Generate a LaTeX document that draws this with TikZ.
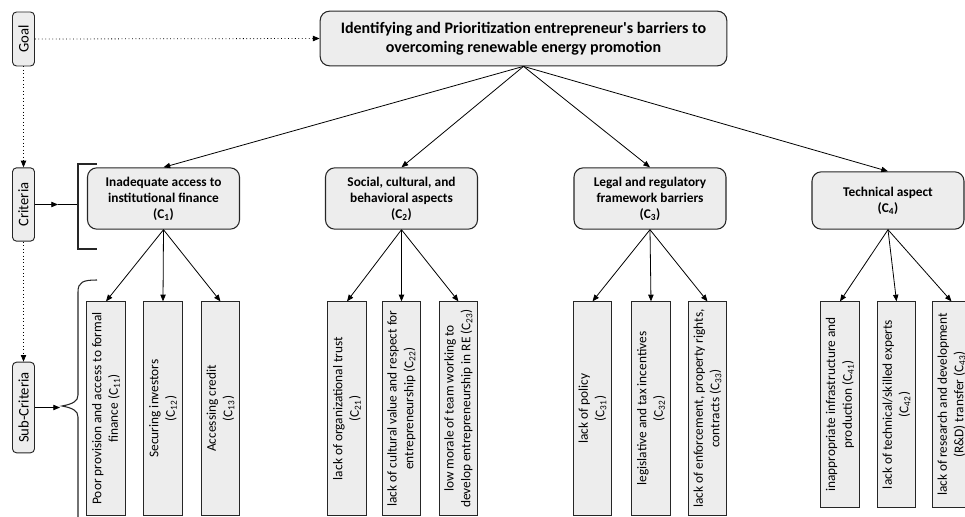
\documentclass[tikz,border=0pt]{standalone}
\usepackage{fontspec}
\setmainfont{Carlito}
\usepackage{xcolor}
\usetikzlibrary{arrows.meta}
\definecolor{boxfill}{HTML}{EDEDED}
\definecolor{edge}{HTML}{262626}
\tikzset{
  arr/.style={draw=black, line width=0.6pt, -{Triangle[length=5pt,width=4pt]}},
  dots/.style={arr, dotted},
  lvl/.style={draw=edge, fill=boxfill, rounded corners=3pt, rotate=90, line width=0.7pt, inner sep=1pt, minimum height=16.5pt, font=\fontsize{11}{13}\selectfont},
  goalbox/.style={draw=edge, fill=boxfill, rounded corners=7pt, line width=0.8pt, minimum width=305pt, minimum height=41pt, align=center, font=\fontsize{12}{14.5}\selectfont\bfseries},
  crit/.style={draw=edge, fill=boxfill, rounded corners=7pt, line width=0.8pt, minimum width=114pt, minimum height=46pt, align=center, font=\fontsize{10}{12}\selectfont\bfseries},
  subbox/.style={draw=edge, fill=boxfill, rotate=90, line width=0.7pt, minimum width=160pt, minimum height=29pt, inner sep=1pt, align=center, font=\fontsize{10}{12.5}\selectfont}
}
\begin{document}
\begin{tikzpicture}[x=0.75pt, y=-0.75pt]
  \useasboundingbox (0,0) rectangle (965,517);
  \clip (0,0) rectangle (965,517);
  % levels
  \node[lvl, minimum width=40.5pt] (lgoal) at (23.5,39) {Goal};
  \node[lvl, minimum width=55pt] (lcrit) at (23.5,204.5) {Criteria};
  \node[lvl, minimum width=68pt] (lsub) at (23.5,407.5) {Sub-Criteria};
  % goal and criteria
  \node[goalbox] (top) at (523.5,38.5) {Identifying and Prioritization entrepreneur\textquotesingle s barriers to\\overcoming renewable energy promotion};
  \node[crit] (c1) at (163.5,198.5) {Inadequate access to\\institutional finance\\(C\textsubscript{1})};
  \node[crit] (c2) at (401.5,198.5) {Social, cultural, and\\behavioral aspects\\(C\textsubscript{2})};
  \node[crit] (c3) at (650,198.5) {Legal and regulatory\\framework barriers\\(C\textsubscript{3})};
  \node[crit, minimum height=43pt] (c4) at (888,200.5) {Technical aspect\\(C\textsubscript{4})};
  % sub-criteria
  \node[subbox] (c11) at (106,408.5) {Poor provision and access to formal\\finance (C\textsubscript{11})};
  \node[subbox] (c12) at (163,408.5) {Securing investors\\(C\textsubscript{12})};
  \node[subbox] (c13) at (220.5,408.5) {Accessing credit\\(C\textsubscript{13})};
  \node[subbox] (c21) at (347,408.5) {lack of organizational trust\\(C\textsubscript{21})};
  \node[subbox] (c22) at (401.5,408.5) {lack of cultural value and respect for\\entrepreneurship (C\textsubscript{22})};
  \node[subbox] (c23) at (458.5,408.5) {low morale of team working to\\develop entrepreneurship in RE (C\textsubscript{23})};
  \node[subbox] (c31) at (592.5,408.5) {lack of policy\\(C\textsubscript{31})};
  \node[subbox] (c32) at (651,408.5) {legislative and tax incentives\\(C\textsubscript{32})};
  \node[subbox] (c33) at (707.5,408.5) {lack of enforcement, property rights,\\contracts (C\textsubscript{33})};
  \node[subbox, minimum width=154pt] (c41) at (840,404.5) {inappropriate infrastructure and\\production (C\textsubscript{41})};
  \node[subbox, minimum width=154pt] (c42) at (896.5,404.5) {lack of technical/skilled experts\\(C\textsubscript{42})};
  \node[subbox, minimum width=154pt] (c43) at (951.5,404.5) {lack of research and development\\(R\&D) transfer (C\textsubscript{43})};
  % connectors
  \draw[dots] (lgoal.south) -- (top.west);
  \draw[dots] (lgoal.west) -- (lcrit.east);
  \draw[dots] (lcrit.west) -- (lsub.east);
  \foreach \c in {c1,c2,c3,c4}
    \draw[arr] (top.south) -- (\c.north);
  \foreach \p/\s in {c1/c11,c1/c12,c1/c13,c2/c21,c2/c22,c2/c23,c3/c31,c3/c32,c3/c33,c4/c41,c4/c42,c4/c43}
    \draw[arr] (\p.south) -- (\s.east);
  % brackets
  \coordinate (ctip) at (58,204.5);
  \coordinate (brk) at (78,204.5);
  \coordinate (stip) at (60,407.5);
  \draw[arr] (lcrit.south) -- (ctip);
  \draw[line width=1pt] (ctip) -- (brk);
  \draw[line width=0.8pt, edge] (97,164) -- (78,164) -- (78,249) -- (97,249);
  \draw[line width=0.8pt, edge] (97,280) .. controls (83,280) and (78,282) .. (78,292) -- (78,395)
    .. controls (78,401) and (73,404) .. (62,406) .. controls (73,408) and (78,411) .. (78,417) -- (78,525);
  \draw[arr] (lsub.south) -- (stip);
\end{tikzpicture}
\end{document}
